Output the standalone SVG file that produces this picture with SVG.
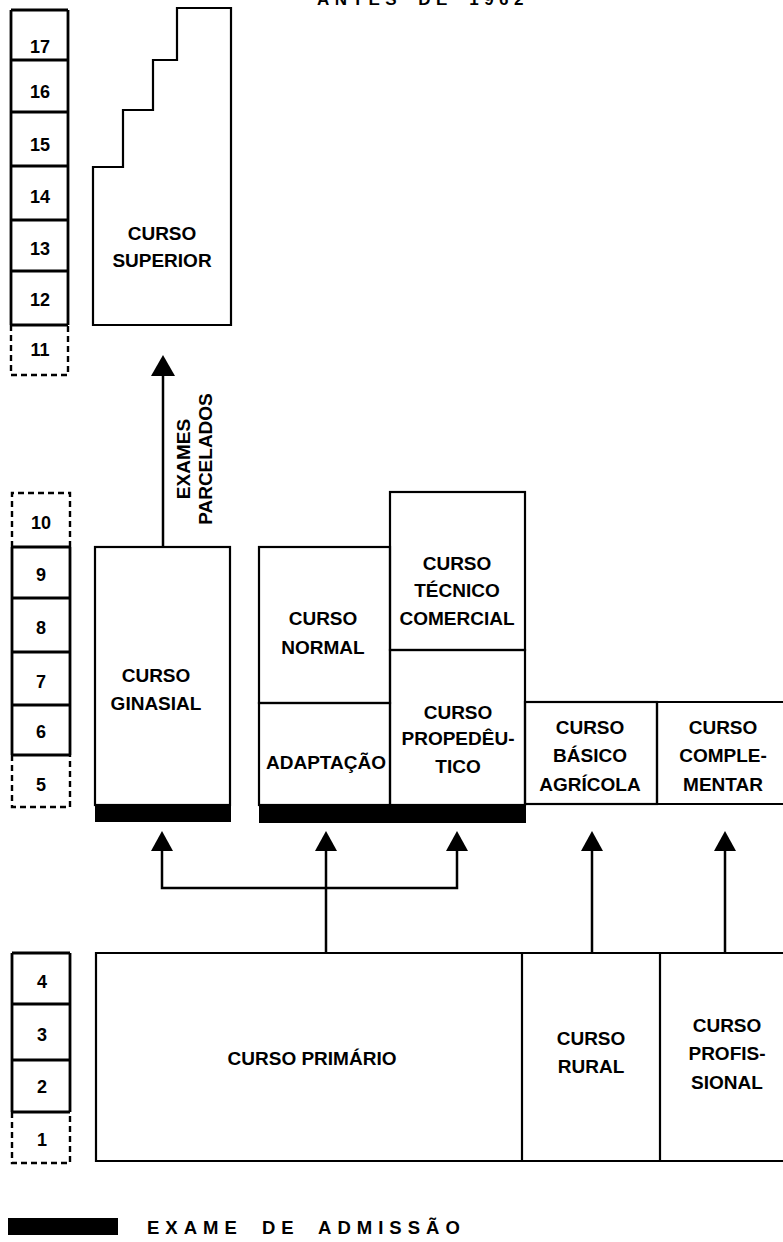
<svg xmlns="http://www.w3.org/2000/svg" width="783" height="1242" viewBox="0 0 783 1242">
<style>
.t{font-family:"Liberation Sans",Arial,sans-serif;font-weight:bold;font-size:19px;fill:#000;text-anchor:middle}
.n{font-family:"Liberation Sans",Arial,sans-serif;font-weight:bold;font-size:18px;fill:#000;text-anchor:middle}
.b{fill:none;stroke:#000;stroke-width:2.2}
.s{fill:none;stroke:#000;stroke-width:2.8}
.d{fill:none;stroke:#000;stroke-width:2.4;stroke-dasharray:6 4}
.c{fill:none;stroke:#000;stroke-width:2.5}
.ah{fill:#000}
.bar{fill:#000}
</style>
<rect width="783" height="1242" fill="#fff"/>
<text x="317" y="5" font-family="Liberation Sans, Arial, sans-serif" font-weight="bold" font-size="17" letter-spacing="5.5" word-spacing="6">ANTES DE 1962</text>

<g id="scale-upper">
<path class="s" d="M11,10 H68 M11,10 V325 M68,10 V325 M11,60 H68 M11,112 H68 M11,166 H68 M11,220 H68 M11,271 H68 M11,325 H68"/>
<path class="d" d="M11,325 V375 H68 V325"/>
<text class="n" x="40" y="53">17</text>
<text class="n" x="40" y="98">16</text>
<text class="n" x="40" y="151">15</text>
<text class="n" x="40" y="203">14</text>
<text class="n" x="40" y="255">13</text>
<text class="n" x="40" y="306">12</text>
<text class="n" x="40" y="356">11</text>
</g>

<g id="scale-middle">
<path class="d" d="M12,547 V493 H70 V547"/>
<path class="s" d="M12,547 H70 M12,547 V755 M70,547 V755 M12,598 H70 M12,652 H70 M12,705 H70 M12,755 H70"/>
<path class="d" d="M12,755 V807 H70 V755"/>
<text class="n" x="41" y="529">10</text>
<text class="n" x="41" y="581">9</text>
<text class="n" x="41" y="634">8</text>
<text class="n" x="41" y="688">7</text>
<text class="n" x="41" y="738">6</text>
<text class="n" x="41" y="791">5</text>
</g>

<g id="scale-lower">
<path class="s" d="M12,953 H70 M12,953 V1112 M70,953 V1112 M12,1004 H70 M12,1060 H70 M12,1112 H70"/>
<path class="d" d="M12,1112 V1163 H70 V1112"/>
<text class="n" x="42" y="988">4</text>
<text class="n" x="42" y="1041">3</text>
<text class="n" x="42" y="1093">2</text>
<text class="n" x="42" y="1146">1</text>
</g>

<g id="curso-superior">
<path class="b" d="M93,325 V167 H123 V110 H153 V60 H177 V8 H231 V325 Z"/>
<text class="t" x="162" y="240">CURSO</text>
<text class="t" x="162" y="267">SUPERIOR</text>
</g>

<g id="curso-ginasial">
<rect class="b" x="95" y="547" width="135" height="258"/>
<rect class="bar" x="95" y="805" width="136" height="17"/>
<text class="t" x="156" y="682">CURSO</text>
<text class="t" x="156" y="710">GINASIAL</text>
</g>

<g id="curso-normal">
<rect class="b" x="259" y="547" width="131" height="156"/>
<text class="t" x="323" y="625">CURSO</text>
<text class="t" x="323" y="654">NORMAL</text>
</g>

<g id="adaptacao">
<rect class="b" x="259" y="703" width="131" height="102"/>
<text class="t" x="326" y="769">ADAPTAÇÃO</text>
</g>

<g id="curso-tecnico-comercial">
<rect class="b" x="390" y="492" width="135" height="158"/>
<text class="t" x="457" y="570">CURSO</text>
<text class="t" x="457" y="597">TÉCNICO</text>
<text class="t" x="457" y="625">COMERCIAL</text>
</g>

<g id="curso-propedeutico">
<rect class="b" x="390" y="650" width="135" height="155"/>
<text class="t" x="458" y="719">CURSO</text>
<text class="t" x="458" y="745">PROPEDÊU-</text>
<text class="t" x="458" y="773">TICO</text>
</g>

<rect id="exame-bar-2" class="bar" x="259" y="805" width="267" height="18"/>

<g id="curso-basico-agricola">
<rect class="b" x="525" y="702" width="132" height="102"/>
<text class="t" x="590" y="734">CURSO</text>
<text class="t" x="590" y="762">BÁSICO</text>
<text class="t" x="590" y="791">AGRÍCOLA</text>
</g>

<g id="curso-complementar">
<path class="b" d="M657,702 H790 M657,804 H790 M657,702 V804"/>
<text class="t" x="723" y="734">CURSO</text>
<text class="t" x="723" y="762">COMPLE-</text>
<text class="t" x="723" y="791">MENTAR</text>
</g>

<g id="curso-primario">
<path class="b" d="M522,953 H96 V1161 H522 Z"/>
<text class="t" x="312" y="1065">CURSO PRIMÁRIO</text>
</g>

<g id="curso-rural">
<path class="b" d="M522,953 H660 V1161 H522"/>
<text class="t" x="591" y="1045">CURSO</text>
<text class="t" x="591" y="1073">RURAL</text>
</g>

<g id="curso-profissional">
<path class="b" d="M660,953 H790 M660,1161 H790"/>
<text class="t" x="727" y="1032">CURSO</text>
<text class="t" x="727" y="1060">PROFIS-</text>
<text class="t" x="727" y="1089">SIONAL</text>
</g>

<g id="connectors">
<path class="c" d="M163,547 V374"/>
<polygon class="ah" points="163,355 151,376 175,376"/>
<text x="190" y="459" transform="rotate(-90 190 459)" class="t" font-size="17">EXAMES</text>
<text x="212" y="459" transform="rotate(-90 212 459)" class="t" font-size="17">PARCELADOS</text>
<path class="c" d="M162,849 V888 H457 V849 M326,849 V953 M592,849 V953 M725,849 V953"/>
<polygon class="ah" points="162,831 151,851 173,851"/>
<polygon class="ah" points="326,831 315,851 337,851"/>
<polygon class="ah" points="457,831 446,851 468,851"/>
<polygon class="ah" points="592,831 581,851 603,851"/>
<polygon class="ah" points="725,831 714,851 736,851"/>
</g>

<g id="legend">
<rect class="bar" x="8" y="1218" width="110" height="17"/>
<text x="147" y="1234" font-family="Liberation Sans, Arial, sans-serif" font-weight="bold" font-size="18.5" letter-spacing="6" word-spacing="8">EXAME DE ADMISSÃO</text>
</g>
</svg>
